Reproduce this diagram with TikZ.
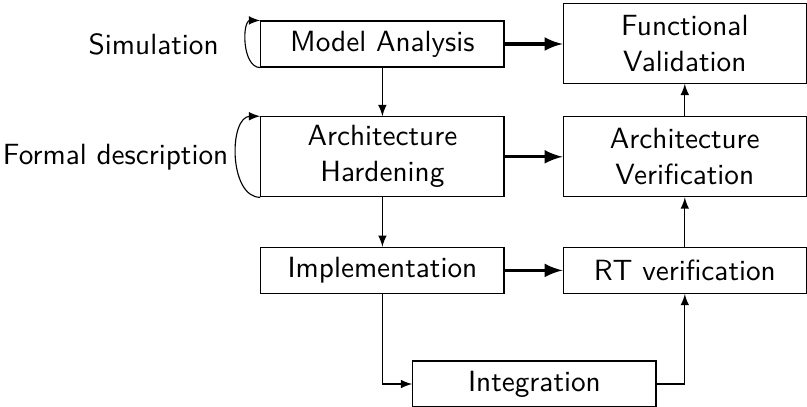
\documentclass[tikz,border=0pt]{standalone}
\usetikzlibrary{positioning}

\tikzset{
    stage/.style = {draw, rectangle, align = center, text width = 2.9cm,
        minimum height = 0.575cm, inner sep = 2pt, font = \labelfont},
    twoline/.style = {minimum height = 1.0cm},
    flow/.style = {-latex},
    handoff/.style = {-latex, line width = 1.2pt},
}
\newcommand{\labelfont}{\sffamily\fontsize{10.4}{12.8}\selectfont}

\begin{document}
\begin{tikzpicture}
    % \draw[style = help lines] (0,-5) grid (10,0);
    \useasboundingbox (0,0) rectangle (10.0875,-5.0875);

    % design side
    \node[stage] (model) at (4.78,-0.55) {Model Analysis};
    \node[stage, twoline] (archhard) at (4.78,-1.96) {Architecture\\Hardening};
    \node[stage] (impl) at (4.78,-3.38) {Implementation};
    \node[stage] (integ) at (6.68,-4.80) {Integration};

    % verification side
    \node[stage, twoline] (funcval) at (8.56,-0.54) {Functional\\Validation};
    \node[stage, twoline] (archver) at (8.56,-1.96) {Architecture\\Verification};
    \node[stage] (rtver) at (8.56,-3.38) {RT verification};

    % loops
    \draw[flow] (model.south west) to[out=180, in=180] (model.north west);
    \draw[flow] (archhard.south west) to[out=180, in=180] (archhard.north west);
    \node[font = \labelfont, anchor = east, inner sep = 0pt] (sim) at (2.74,-0.55) {Simulation};
    \node[font = \labelfont, anchor = east, inner sep = 0pt] (formal) at (2.86,-1.96) {Formal description};

    \draw[flow] (model) -- (archhard);
    \draw[flow] (archhard) -- (impl);
    \draw[flow] (impl.south) |- (integ.west);
    \draw[flow] (integ.east) -| (rtver.south);
    \draw[flow] (rtver) -- (archver);
    \draw[flow] (archver) -- (funcval);

    \draw[handoff] (model) -- (model -| funcval.west);
    \draw[handoff] (archhard) -- (archver);
    \draw[handoff] (impl) -- (rtver);
\end{tikzpicture}
\end{document}
